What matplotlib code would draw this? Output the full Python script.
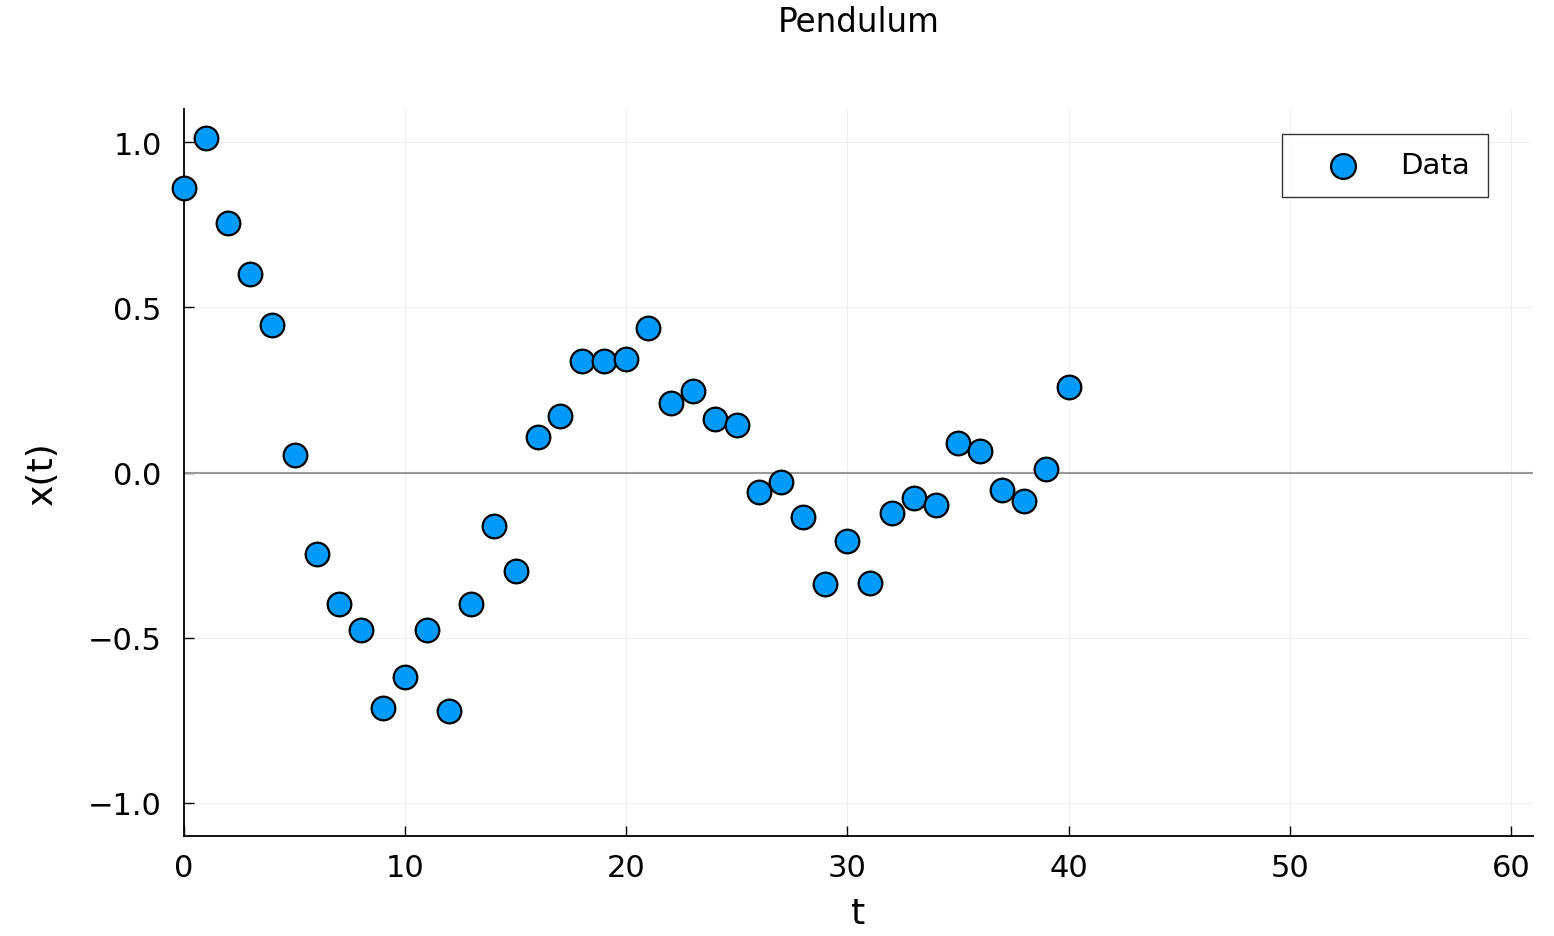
import matplotlib
matplotlib.use("Agg")
import matplotlib.pyplot as plt

t = list(range(41))
x = [0.861, 1.012, 0.755, 0.600, 0.445, 0.052, -0.248, -0.397, -0.476, -0.712,
     -0.618, -0.476, -0.721, -0.397, -0.161, -0.297, 0.106, 0.170, 0.336, 0.336,
     0.342, 0.436, 0.209, 0.248, 0.161, 0.145, -0.058, -0.030, -0.136, -0.336,
     -0.206, -0.333, -0.124, -0.076, -0.097, 0.088, 0.064, -0.052, -0.085, 0.012,
     0.258]
xticks = [0, 10, 20, 30, 40, 50, 60]
yticks = [-1.0, -0.5, 0.0, 0.5, 1.0]

plt.rcParams['font.family'] = ['DejaVu Sans']
fig = plt.figure(figsize=(15.54, 9.37), dpi=100)
ax = fig.add_axes([0.1184, 0.1067, 0.8681, 0.7759])

ax.axhline(0, color='#999999', lw=1.5, zorder=1)
ax.scatter(t, x, s=290, c='#009AFA', edgecolors='black', linewidths=1.6,
           zorder=3, clip_on=False, label='Data')

ax.set_xlim(0, 61)
ax.set_ylim(-1.1, 1.1)
ax.set_xticks(xticks)
ax.set_yticks(yticks)
ax.set_xticklabels([str(v) for v in xticks])
ax.set_yticklabels(['\u22121.0', '\u22120.5', '0.0', '0.5', '1.0'])
ax.grid(True, color='#e6e6e6', lw=0.8, alpha=0.6)
ax.set_axisbelow(True)
for s in ['top', 'right']:
    ax.spines[s].set_visible(False)
for s in ['left', 'bottom']:
    ax.spines[s].set_linewidth(1.3)
ax.tick_params(direction='in', length=7, width=1.0, labelsize=22)
ax.tick_params(axis='x', pad=12)
ax.tick_params(axis='y', pad=16)

ax.set_xlabel('t', fontsize=26, labelpad=10)
ax.set_ylabel('x(t)', fontsize=26, labelpad=21)
fig.text((0.1184 + 0.9865) / 2, 1 - 22 / 937, 'Pendulum', fontsize=23.5,
         ha='center', va='center')

leg = ax.legend(loc='upper right', bbox_to_anchor=(0.9665, 0.966), fontsize=21,
                frameon=True, fancybox=False, edgecolor='black', borderpad=0.6,
                handlelength=2.98, handletextpad=0.5, borderaxespad=0,
                markerscale=1.05)
leg.get_frame().set_linewidth(1.0)

fig.savefig('out.png', dpi=100)
